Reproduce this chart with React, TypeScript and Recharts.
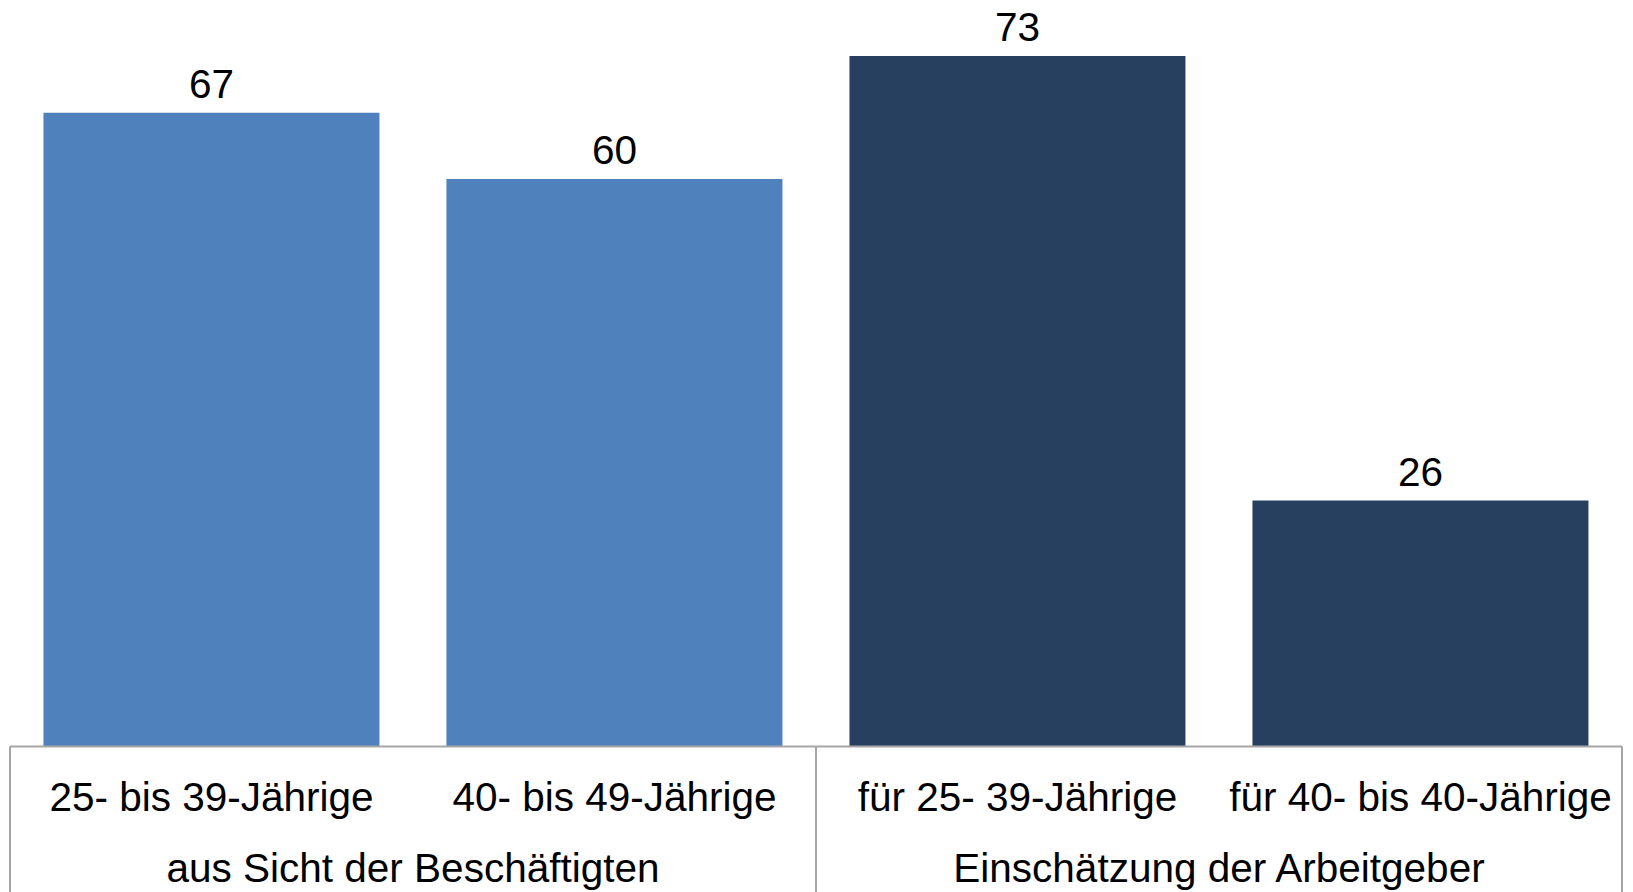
import React from "react";
import { BarChart, Bar, XAxis, YAxis, Cell, LabelList } from "recharts";

const categories = [
  "25- bis 39-Jährige",
  "40- bis 49-Jährige",
  "für 25- 39-Jährige",
  "für 40- bis 40-Jährige",
];
const values = [67, 60, 73, 26];
const groups = ["aus Sicht der Beschäftigten", "Einschätzung der Arbeitgeber"];
const groupOfCategory = [0, 0, 1, 1];
const barColors = ["#4F81BD", "#4F81BD", "#27405F", "#27405F"];

const data = categories.map((c, i) => ({ name: c, value: values[i], group: groups[groupOfCategory[i]] }));

const CHART_W = 1633;
const CHART_H = 892;
const MARGIN = { top: 56, right: 11, left: 10, bottom: 0 };
const AXIS_H = 145.5;
const PLOT_W = CHART_W - MARGIN.left - MARGIN.right;
const BAND = PLOT_W / categories.length;
const FONT = "'Liberation Sans', Arial, sans-serif";
const FONT_SIZE = 40.5;
const LINE = "#A6A6A6";

const Tick = (props: any) => {
  const { x, y, payload, index } = props;
  const i = index as number;
  const g = groupOfCategory[i];
  const isGroupStart = i === 0 || groupOfCategory[i - 1] !== g;
  const groupCount = groupOfCategory.filter((v) => v === g).length;
  const lineBottom = y + AXIS_H + 10;
  return (
    <g>
      <text x={x} y={y + 64.5} textAnchor="middle" fontFamily={FONT} fontSize={FONT_SIZE} fill="#000">
        {payload.value}
      </text>
      {isGroupStart && (
        <>
          <line x1={x - BAND / 2} x2={x - BAND / 2} y1={y} y2={lineBottom} stroke={LINE} strokeWidth={2} />
          <text
            x={x - BAND / 2 + (groupCount * BAND) / 2}
            y={y + 135.5}
            textAnchor="middle"
            fontFamily={FONT}
            fontSize={FONT_SIZE}
            fill="#000"
          >
            {groups[g]}
          </text>
        </>
      )}
      {i === categories.length - 1 && (
        <line x1={x + BAND / 2} x2={x + BAND / 2} y1={y} y2={lineBottom} stroke={LINE} strokeWidth={2} />
      )}
    </g>
  );
};

export default function App() {
  return (
    <div style={{ position: "absolute", left: 0, top: 0, width: CHART_W, height: CHART_H, background: "#fff" }}>
      <BarChart width={CHART_W} height={CHART_H} data={data} margin={MARGIN} barCategoryGap="8.3%">
        <XAxis
          dataKey="name"
          interval={0}
          height={AXIS_H}
          tickLine={false}
          tickSize={0}
          tickMargin={0}
          axisLine={{ stroke: LINE, strokeWidth: 2 }}
          tick={<Tick />}
        />
        <YAxis hide domain={[0, "dataMax"]} />
        <Bar dataKey="value" isAnimationActive={false}>
          {data.map((d, i) => (
            <Cell key={d.name} fill={barColors[i]} />
          ))}
          <LabelList
            dataKey="value"
            position="top"
            offset={15}
            style={{ fontFamily: FONT, fontSize: FONT_SIZE, fill: "#000" }}
          />
        </Bar>
      </BarChart>
    </div>
  );
}
